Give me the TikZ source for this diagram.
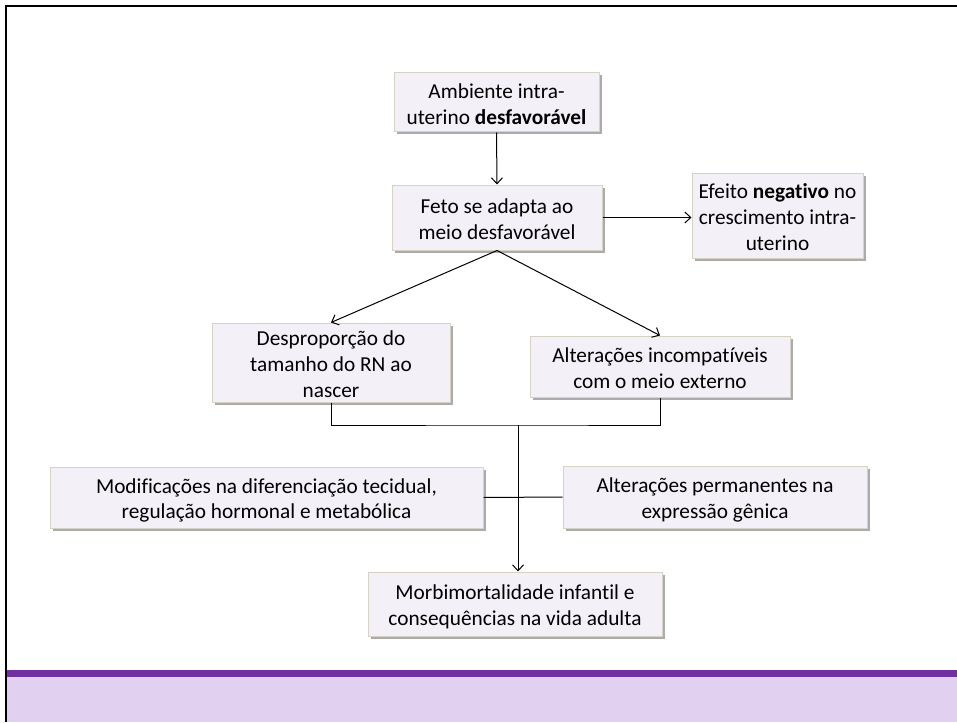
\documentclass[tikz,border=0pt]{standalone}
\usepackage{fontspec}
\setmainfont{Carlito}[Ligatures=NoCommon]
\usetikzlibrary{arrows.meta,shadows,calc}

\definecolor{boxfill}{RGB}{244,240,248}
\definecolor{boxedge}{RGB}{214,210,196}
\definecolor{barpurple}{RGB}{112,48,160}
\definecolor{barlilac}{RGB}{226,208,240}

% invisible rule that evens out the first and last line of a box
\newcommand\boxstrut{\rule[-3pt]{0pt}{24pt}}

\tikzset{
  x=1pt, y=-1pt,
  flowbox/.style={
    draw=boxedge, line width=1pt, fill=boxfill,
    align=center, inner xsep=2pt, inner ysep=0pt,
    font=\fontsize{21.3}{26}\selectfont,
    drop shadow={shadow xshift=2.5pt, shadow yshift=-2.5pt,
                 fill=black!55, opacity=0.6}
  },
  link/.style={draw=black, line width=1pt},
  arrowlink/.style={link, -{Straight Barb[length=6pt,width=11pt]}}
}

\begin{document}
\begin{tikzpicture}
  \useasboundingbox (0,0) rectangle (957,722);
  \fill[white] (0,0) rectangle (957,722);

  % footer band
  \fill[barlilac] (7,677) rectangle (957,722);
  \fill[barpurple] (7,670) rectangle (957,677);

  % frame edges
  \draw[line width=2.5pt, black] (6,722) -- (6,6) -- (957,6);

  % boxes
  \node[flowbox, minimum width=205pt, minimum height=59pt] (amb) at (496.5,102.5)
    {\boxstrut Ambiente intra-\\uterino \textbf{desfavorável}\boxstrut};
  \node[flowbox, minimum width=210pt, minimum height=65pt] (feto) at (497,217.5)
    {\boxstrut Feto se adapta ao\\meio desfavorável\boxstrut};
  \node[flowbox, minimum width=171pt, minimum height=85pt] (efeito) at (777.5,215.5)
    {\boxstrut Efeito \textbf{negativo} no\\crescimento intra-\\uterino\boxstrut};
  \node[flowbox, minimum width=238pt, minimum height=79pt] (desp) at (331,362.5)
    {\boxstrut Desproporção do\\tamanho do RN ao\\nascer\boxstrut};
  \node[flowbox, minimum width=260pt, minimum height=61pt] (incomp) at (660,366.5)
    {\boxstrut Alterações incompatíveis\\com o meio externo\boxstrut};
  \node[flowbox, minimum width=433pt, minimum height=61pt,
        font=\fontsize{21.3}{24}\selectfont] (modif) at (266.5,497.5)
    {\boxstrut Modificações na diferenciação tecidual,\\regulação hormonal e metabólica\boxstrut};
  \node[flowbox, minimum width=304pt, minimum height=62pt] (perm) at (715,497)
    {\boxstrut Alterações permanentes na\\expressão gênica\boxstrut};
  \node[flowbox, minimum width=294pt, minimum height=64pt] (morb) at (515,604)
    {\boxstrut Morbimortalidade infantil e\\consequências na vida adulta\boxstrut};

  % connectors
  \coordinate (join) at (518,425);
  \draw[arrowlink] (amb.south) -- (feto.north);
  \draw[arrowlink] (feto.east) -- (feto.east -| efeito.west);
  \draw[arrowlink] (feto.south) -- (desp.north);
  \draw[arrowlink] (feto.south) -- (incomp.north);
  \draw[link] (desp.south) |- (join) -| (incomp.south);
  \draw[arrowlink] (join) -- (join |- morb.north);
  \draw[link] (modif.east) -- (perm.west);
\end{tikzpicture}
\end{document}
